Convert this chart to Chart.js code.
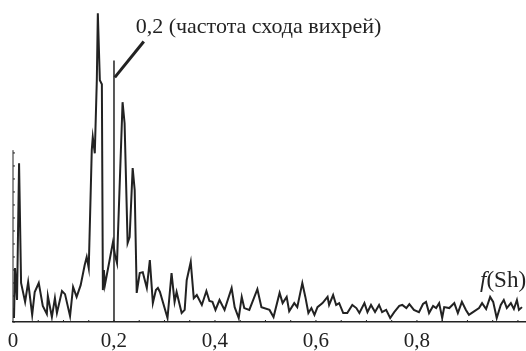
<!DOCTYPE html>
<html>
<head>
<meta charset="utf-8">
<script src="https://cdn.jsdelivr.net/npm/chart.js@4.4.0/dist/chart.umd.min.js"></script>
<style>
  html, body { margin: 0; padding: 0; background: #fff; }
  #wrap { width: 526px; height: 351px; }
</style>
</head>
<body>
<div id="wrap"><canvas id="spectrum" width="526" height="351"></canvas></div>
<script>
// Strouhal number axis (frequency)
const freqs = [
  0.002, 0.004, 0.008, 0.012, 0.016, 0.024, 0.030, 0.038, 0.043, 0.051,
  0.059, 0.067, 0.069, 0.077, 0.083, 0.087, 0.097, 0.103, 0.113, 0.119,
  0.126, 0.134, 0.142, 0.146, 0.150, 0.156, 0.158, 0.162, 0.166, 0.168,
  0.172, 0.176, 0.178, 0.180, 0.182, 0.192, 0.198, 0.202, 0.206, 0.208,
  0.217, 0.221, 0.227, 0.231, 0.237, 0.241, 0.245, 0.251, 0.257, 0.265,
  0.271, 0.277, 0.283, 0.287, 0.291, 0.306, 0.314, 0.320, 0.324, 0.334,
  0.340, 0.344, 0.352, 0.358, 0.364, 0.374, 0.383, 0.389, 0.395, 0.401,
  0.409, 0.419, 0.433, 0.439, 0.447, 0.453, 0.458, 0.468, 0.484, 0.492,
  0.508, 0.516, 0.528, 0.534, 0.542, 0.547, 0.557, 0.563, 0.573, 0.579,
  0.585, 0.591, 0.597, 0.603, 0.613, 0.623, 0.626, 0.634, 0.640, 0.646,
  0.654, 0.662, 0.672, 0.680, 0.686, 0.696, 0.702, 0.709, 0.717, 0.725,
  0.731, 0.739, 0.747, 0.755, 0.765, 0.771, 0.779, 0.785, 0.794, 0.804,
  0.812, 0.818, 0.824, 0.832, 0.838, 0.844, 0.850, 0.854, 0.864, 0.874,
  0.881, 0.889, 0.897, 0.903, 0.911, 0.923, 0.929, 0.937, 0.945, 0.951,
  0.958, 0.966, 0.972, 0.978, 0.986, 0.992, 0.998, 1.002, 1.008
];
// spectral amplitude, arbitrary units
const amps = [
  1.3, 17.4, 7.1, 51.3, 12.6, 6.5, 12.9, 2.3, 9.7, 12.6,
  5.2, 2.6, 8.4, 1.6, 7.7, 2.9, 10.0, 9.0, 1.9, 11.3,
  8.1, 11.9, 18.4, 21.0, 17.4, 55.5, 59.7, 54.5, 78.1, 99.7,
  78.1, 76.8, 10.3, 16.8, 11.9, 20.6, 25.8, 21.6, 19.0, 29.0,
  71.0, 64.2, 25.5, 27.4, 49.7, 42.6, 9.4, 15.8, 16.1, 11.0,
  20.0, 6.1, 10.3, 11.0, 9.7, 1.3, 15.8, 6.5, 9.7, 2.9,
  3.9, 13.5, 19.4, 7.7, 8.7, 5.5, 10.0, 6.8, 6.5, 3.9,
  7.1, 3.9, 11.0, 4.8, 1.3, 8.1, 4.5, 3.9, 10.6, 4.8,
  3.9, 1.6, 9.4, 6.1, 8.1, 3.5, 6.1, 4.8, 12.6, 8.1,
  2.9, 4.5, 2.3, 4.8, 6.1, 8.1, 5.5, 8.7, 5.5, 6.1,
  2.9, 2.9, 5.5, 4.5, 2.9, 6.1, 3.2, 5.5, 3.2, 5.5,
  3.2, 3.9, 1.3, 3.2, 5.2, 5.5, 4.5, 5.8, 3.9, 3.2,
  5.8, 6.5, 2.9, 5.2, 4.5, 6.1, 1.3, 4.8, 4.5, 6.1,
  2.9, 6.5, 3.9, 2.3, 3.2, 4.5, 6.1, 4.2, 8.1, 6.5,
  1.3, 5.5, 7.1, 4.5, 6.1, 4.2, 7.1, 3.9, 4.8
];

const tickValues = [0, 0.2, 0.4, 0.6, 0.8];
const tickLabels = ['0', '0,2', '0,4', '0,6', '0,8'];

// vortex shedding frequency marker and callout
const markerFreq = 0.2;
const markerTop = 84.5;
const calloutFreqs = [0.2016, 0.259];
const calloutAmps = [79, 90.6];
const calloutText = '0,2 (частота схода вихрей)';
const axisName = ['f', '(Sh)'];

const ink = '#222';
const serif = '"Liberation Serif", "Times New Roman", serif';

const spectrum = freqs.map((f, i) => ({ x: f, y: amps[i] }));

const decor = {
  id: 'decor',
  afterDatasetsDraw(chart) {
    const { ctx, scales: { x, y } } = chart;
    ctx.save();
    ctx.strokeStyle = ink;
    ctx.fillStyle = ink;

    // short y axis with small ticks
    const x0 = x.getPixelForValue(0);
    ctx.lineWidth = 1;
    ctx.beginPath();
    ctx.moveTo(x0, y.getPixelForValue(0));
    ctx.lineTo(x0, y.getPixelForValue(55.5));
    for (let v = 0; v <= 55.5; v += 4.2) {
      const py = y.getPixelForValue(v);
      ctx.moveTo(x0, py);
      ctx.lineTo(x0 + 2, py);
    }
    // minor ticks along the frequency axis
    for (let f = 0.05; f < 1.01; f += 0.05) {
      const px = x.getPixelForValue(f);
      ctx.moveTo(px, y.getPixelForValue(0));
      ctx.lineTo(px, y.getPixelForValue(0) - 2);
    }
    ctx.stroke();

    ctx.font = '22px ' + serif;
    ctx.textBaseline = 'alphabetic';
    ctx.fillText(calloutText, x.getPixelForValue(0.243), y.getPixelForValue(93.2));

    const nx = x.getPixelForValue(0.925), ny = y.getPixelForValue(11.3);
    ctx.font = 'italic 23px ' + serif;
    ctx.fillText(axisName[0], nx, ny);
    const w = ctx.measureText(axisName[0]).width;
    ctx.font = '23px ' + serif;
    ctx.fillText(axisName[1], nx + w, ny);
    ctx.restore();
  }
};

new Chart(document.getElementById('spectrum'), {
  type: 'line',
  data: {
    datasets: [
      {
        data: spectrum,
        borderColor: ink,
        borderWidth: 2,
        pointRadius: 0,
        tension: 0
      },
      {
        data: [{ x: markerFreq, y: 0 }, { x: markerFreq, y: markerTop }],
        borderColor: ink,
        borderWidth: 1.5,
        pointRadius: 0
      },
      {
        data: calloutFreqs.map((f, i) => ({ x: f, y: calloutAmps[i] })),
        borderColor: ink,
        borderWidth: 3,
        pointRadius: 0
      }
    ]
  },
  options: {
    responsive: false,
    animation: false,
    devicePixelRatio: 1,
    layout: { padding: { left: 13, right: 0, top: 0, bottom: 0 } },
    plugins: { legend: { display: false }, tooltip: { enabled: false } },
    scales: {
      x: {
        type: 'linear',
        min: 0,
        max: 1.014,
        grid: { display: false },
        border: { display: true, color: ink, width: 1.5 },
        afterFit(scale) { scale.height = 29; },
        ticks: {
          stepSize: 0.2,
          autoSkip: false,
          maxRotation: 0,
          padding: 1,
          color: ink,
          font: { family: serif, size: 21, lineHeight: 1 },
          callback(v) {
            const i = tickValues.findIndex(t => Math.abs(t - v) < 1e-6);
            return i < 0 ? '' : tickLabels[i];
          }
        }
      },
      y: {
        display: false,
        min: 0,
        max: 104
      }
    }
  },
  plugins: [decor]
});
</script>
</body>
</html>
